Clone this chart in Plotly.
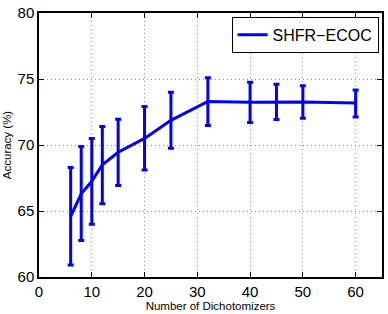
import plotly.graph_objects as go

x_vals = [6, 8, 10, 12, 15, 20, 25, 32, 40, 45, 50, 60]
acc = [64.6, 66.3, 67.25, 68.5, 69.45, 70.5, 71.87, 73.3, 73.23, 73.27, 73.26, 73.18]
err_hi = [68.3, 69.88, 70.49, 71.4, 71.96, 72.92, 73.99, 75.1, 74.76, 74.6, 74.49, 74.17]
err_lo = [60.9, 62.77, 64.0, 65.54, 66.94, 68.11, 69.76, 71.47, 71.71, 71.93, 72.03, 72.13]

plus = [h - a for h, a in zip(err_hi, acc)]
minus = [a - l for a, l in zip(acc, err_lo)]

blue = "rgb(0,0,255)"
fig = go.Figure()
fig.add_trace(go.Scatter(
    x=x_vals, y=acc, mode="lines", name="SHFR−ECOC",
    line=dict(color=blue, width=3),
    error_y=dict(type="data", symmetric=False, array=plus, arrayminus=minus,
                 color=blue, thickness=3, width=3),
))

font = "Liberation Sans, Arial, sans-serif"
axis_common = dict(
    showline=True, linecolor="black", linewidth=1.5, mirror="ticks",
    ticks="inside", ticklen=5, tickcolor="black",
    showgrid=True, gridcolor="rgba(110,110,110,0.8)", griddash="1px,3px", gridwidth=1,
    zeroline=False, tickfont=dict(family=font, size=15, color="black"),
)
fig.update_layout(
    width=388, height=314,
    margin=dict(l=39, r=4, t=9, b=33),
    paper_bgcolor="white", plot_bgcolor="white",
    showlegend=True,
    legend=dict(x=0.99, y=0.985, xanchor="right", yanchor="top",
                bordercolor="black", borderwidth=1, bgcolor="white",
                font=dict(family=font, size=16, color="black"),
                itemwidth=30, tracegroupgap=0),
    xaxis=dict(range=[0, 65], tickvals=[0, 10, 20, 30, 40, 50, 60],
               title=dict(text="Number of Dichotomizers", font=dict(family=font, size=11.5, color="black"), standoff=2),
               **axis_common),
    yaxis=dict(range=[60, 80], tickvals=[60, 65, 70, 75, 80],
               title=dict(text="Accuracy (%)", font=dict(family=font, size=11.5, color="black"), standoff=4),
               **axis_common),
)
fig.write_html("out.html")
